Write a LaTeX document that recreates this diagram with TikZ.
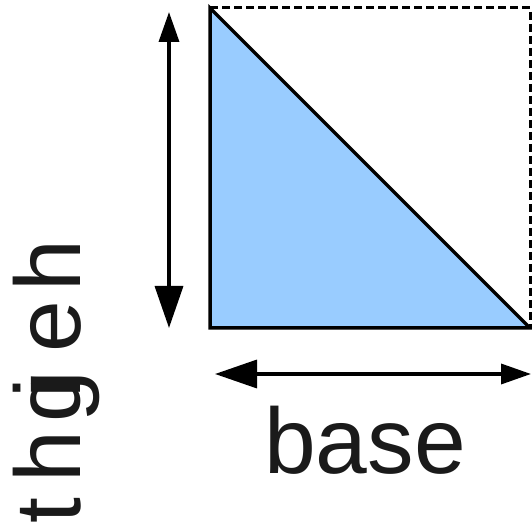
\documentclass[tikz,border=0pt]{standalone}
\usepackage{fontspec}
\setmainfont{Liberation Sans}
\usetikzlibrary{arrows.meta}
\definecolor{triblue}{HTML}{99CCFF}
\definecolor{labelgray}{HTML}{1A1A1A}
\begin{document}
\begin{tikzpicture}[x=1pt,y=1pt,line width=3.5pt,
  lbl/.style={font=\fontsize{93}{93}\selectfont,text=labelgray,inner sep=0pt},
  sidelbl/.style={lbl,rotate=90,anchor=base}]
\useasboundingbox (0,0) rectangle (532,527);
\coordinate (topL) at (210,519);
\coordinate (botL) at (210,199);
\coordinate (botR) at (530,199);
\coordinate (topR) at (530,519);
\draw[line width=3pt,dash pattern=on 8pt off 4pt] (topL) -- (topR) -- (botR);
\filldraw[fill=triblue,line join=miter] (topL) -- (botL) -- (botR) -- cycle;
\coordinate (hTop) at (169,515);
\coordinate (hBot) at (169,199);
\draw[{Triangle[length=30pt,width=20pt]}-{Triangle[length=42pt,width=28pt]}] (hTop) -- (hBot);
\coordinate (bLeft) at (215,153);
\coordinate (bRight) at (531,153);
\draw[{Triangle[length=42pt,width=28pt]}-{Triangle[length=30pt,width=20pt]}] (bLeft) -- (bRight);
\node[lbl,anchor=base] (base) at (365,54) {base};
\node[sidelbl] (h1) at (80,261) {h};
\node[sidelbl] (e1) at (80,200) {e};
\node[sidelbl] (g1) at (80,130) {g};
\node[sidelbl] (i1) at (80,139) {i};
\node[sidelbl] (h2) at (80,70) {h};
\node[sidelbl] (t1) at (80,16) {t};
\end{tikzpicture}
\end{document}
